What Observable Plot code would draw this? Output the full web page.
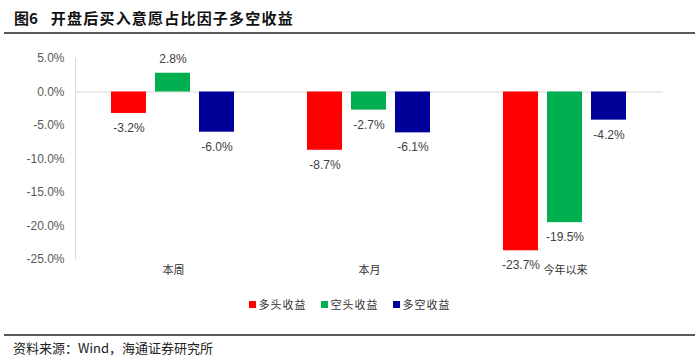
<!DOCTYPE html>
<html><head><meta charset="utf-8">
<script src="https://cdn.jsdelivr.net/npm/d3@7"></script>
<script src="https://cdn.jsdelivr.net/npm/@observablehq/plot@0.6"></script>
<style>
body{margin:0;background:#fff;}
#wrap{position:relative;width:699px;height:361px;overflow:hidden;background:#fff;font-family:"Liberation Sans",Arial,sans-serif;}
#title{position:absolute;left:14px;top:8px;font-family:"Noto Sans CJK SC",sans-serif;font-weight:bold;font-size:15px;line-height:20px;color:#111;white-space:nowrap;}
#title .t{margin-left:13px;letter-spacing:1.2px;}
.rule{position:absolute;left:4px;width:691px;height:2px;background:#5a5a5a;}
#chart{position:absolute;left:0;top:36px;}
#legend{position:absolute;left:0;width:699px;top:296px;display:flex;justify-content:center;align-items:center;font-family:"Noto Sans CJK SC",sans-serif;font-size:11px;color:#333;letter-spacing:1px;}
#legend .item{display:flex;align-items:center;margin:0 7px;}
#legend .sw{width:7px;height:7px;margin-right:3px;}
#source{position:absolute;left:13px;top:339px;font-family:"Noto Sans CJK SC",sans-serif;font-size:13px;line-height:18px;color:#222;white-space:nowrap;}
</style></head>
<body><div id="wrap">
<div id="title">图6<span class="t">开盘后买入意愿占比因子多空收益</span></div>
<div class="rule" style="top:32px"></div>
<div id="chart"></div>
<div id="legend"></div>
<div class="rule" style="top:334px"></div>
<div id="source">资料来源：Wind，海通证券研究所</div>
</div>
<script>
const categories = ["本周", "本月", "今年以来"];
const series = ["多头收益", "空头收益", "多空收益"];
const longRet = [-3.2, -8.7, -23.7];
const shortRet = [2.8, -2.7, -19.5];
const lsRet = [-6.0, -6.1, -4.2];
const colors = ["#FF0000", "#00B050", "#000099"];
const yTicks = [5, 0, -5, -10, -15, -20, -25];

const seriesValues = [longRet, shortRet, lsRet];
const data = categories.flatMap((c, i) => series.map((s, j) => ({cat: c, ser: s, v: seriesValues[j][i]})));
const fmt = v => v.toFixed(1) + "%";

const chart = Plot.plot({
  width: 699, height: 250,
  marginLeft: 74, marginRight: 35, marginTop: 22, marginBottom: 27,
  style: {fontFamily: '"Liberation Sans", Arial, sans-serif', color: "#404040", background: "white"},
  fx: {domain: categories, padding: 0, label: null},
  x: {domain: series, paddingInner: 0.2, paddingOuter: 0.82, axis: null},
  y: {domain: [-25, 5], label: null},
  color: {domain: series, range: colors},
  marks: [
    Plot.ruleY([0], {stroke: "#d9d9d9"}),
    Plot.frame({anchor: "left", stroke: "#d9d9d9", facetAnchor: "left"}),
    Plot.axisY({ticks: yTicks, tickFormat: fmt, tickSize: 0, tickPadding: 11, fontSize: 12, fill: "#595959", label: null}),
    Plot.axisFx({anchor: "bottom", tickSize: 0, tickPadding: 7, fontSize: 11, fontFamily: '"Noto Sans CJK SC", sans-serif', fill: "#333", label: null}),
    Plot.barY(data, {fx: "cat", x: "ser", y: "v", fill: "ser"}),
    Plot.text(data.filter(d => d.v < 0), {fx: "cat", x: "ser", y: "v", text: d => fmt(d.v), lineAnchor: "top", dy: 10, fontSize: 12, fill: "#404040"}),
    Plot.text(data.filter(d => d.v >= 0), {fx: "cat", x: "ser", y: "v", text: d => fmt(d.v), lineAnchor: "bottom", dy: -10, fontSize: 12, fill: "#404040"})
  ]
});
document.getElementById("chart").appendChild(chart);

const legend = document.getElementById("legend");
series.forEach((s, i) => {
  const item = document.createElement("div");
  item.className = "item";
  const sw = document.createElement("div");
  sw.className = "sw";
  sw.style.background = colors[i];
  const lab = document.createElement("span");
  lab.textContent = s;
  item.appendChild(sw); item.appendChild(lab);
  legend.appendChild(item);
});
</script>
</body></html>
